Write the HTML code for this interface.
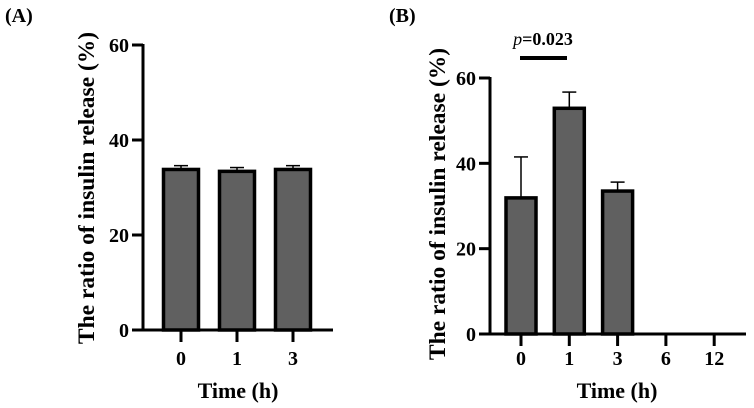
<!DOCTYPE html>
<html><head><meta charset="utf-8"><style>
html,body{margin:0;padding:0;background:#fff;}
svg{display:block;font-family:"Liberation Serif",serif;font-weight:bold;}
</style></head><body>
<svg id="chart" width="754" height="408" viewBox="0 0 754 408">
<text x="5" y="22" font-size="20">(A)</text>
<text x="389" y="22" font-size="20">(B)</text>
<g id="pa"></g>
<g id="pb"></g>
</svg>
<script>
const catsA = ["0","1","3"];
const valsA = [33.8, 33.4, 33.8];
const errA = [0.8, 0.8, 0.8];
const catsB = ["0","1","3","6","12"];
const valsB = [31.9, 52.9, 33.5, 0, 0];
const errB = [9.6, 3.8, 2.1, 0, 0];
const yTicks = [0, 20, 40, 60];
const NS="http://www.w3.org/2000/svg";
function mk(p,t,a){const e=document.createElementNS(NS,t);for(const k in a)e.setAttribute(k,a[k]);p.appendChild(e);return e;}
function draw(g,cfg,cats,vals,errs,pfx){
  const y=v=>cfg.y0-(v/60)*(cfg.y0-cfg.y60);
  const x=i=>cfg.xs0+i*cfg.step;
  yTicks.forEach(t=>{
    const l=mk(g,'line',{x1:cfg.ax-11,x2:cfg.ax,y1:y(t),y2:y(t),stroke:'#000','stroke-width':3});
    
    
    const tx=mk(g,'text',{x:cfg.ax-14,y:y(t)+7,'font-size':20,'text-anchor':'end'});
    tx.textContent=t;
    
    
  });
  cats.forEach((c,i)=>{
    const cx=x(i);
    if(vals[i]>0){
      const e=mk(g,'line',{x1:cx,x2:cx,y1:y(vals[i]),y2:y(vals[i]+errs[i]),stroke:'#000','stroke-width':1.5});
      
      
      const cap=mk(g,'line',{x1:cx-7,x2:cx+7,y1:y(vals[i]+errs[i]),y2:y(vals[i]+errs[i]),stroke:'#000','stroke-width':1.5});
      
      
      const r=mk(g,'rect',{x:cx-cfg.bw/2,y:y(vals[i]),width:cfg.bw,height:y(0)-y(vals[i]),fill:'#606060',stroke:'#000','stroke-width':3.5});
      
      
    }
    const tk=mk(g,'line',{x1:cx,x2:cx,y1:cfg.y0,y2:cfg.y0+12,stroke:'#000','stroke-width':3});
    
    
    const tl=mk(g,'text',{x:cx,y:365,'font-size':20,'text-anchor':'middle'});
    tl.textContent=c;
    
    
  });
  const ya=mk(g,'line',{x1:cfg.ax,x2:cfg.ax,y1:cfg.y60-1,y2:cfg.y0+1.5,stroke:'#000','stroke-width':3});
  
  
  const xa=mk(g,'line',{x1:cfg.ax,x2:cfg.xend,y1:cfg.y0,y2:cfg.y0,stroke:'#000','stroke-width':3});
  
  
  const yt=mk(g,'text',{x:0,y:0,'font-size':23.5,'text-anchor':'middle',transform:`translate(${cfg.tx},${cfg.ty}) rotate(-90)`});
  yt.textContent='The ratio of insulin release (%)';
  
  
  const xt=mk(g,'text',{x:cfg.xtx,y:398,'font-size':22,'text-anchor':'middle'});
  xt.textContent='Time (h)';
  
  
}
draw(document.getElementById('pa'),{ax:143,y0:330,y60:45,xs0:181,step:56,bw:35,xend:333,tx:94,ty:188,xtx:238},catsA,valsA,errA,'a');
draw(document.getElementById('pb'),{ax:490,y0:334,y60:78,xs0:521,step:48.3,bw:30,xend:746,tx:445,ty:204,xtx:617},catsB,valsB,errB,'b');
const g=document.getElementById('pb');
const sl=mk(g,'line',{x1:520,x2:567,y1:58,y2:58,stroke:'#000','stroke-width':4});


const st=mk(g,'text',{x:543,y:45,'font-size':18,'text-anchor':'middle'});
st.innerHTML='<tspan font-style="italic" font-weight="normal">p</tspan>=0.023';


</script>
</body></html>
